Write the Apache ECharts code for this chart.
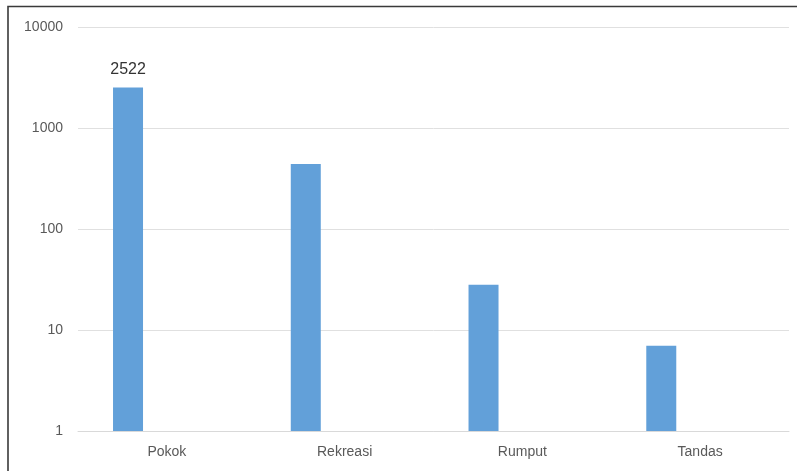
<!DOCTYPE html>
<html>
<head>
<meta charset="utf-8">
<script src="https://cdn.jsdelivr.net/npm/echarts@6/dist/echarts.min.js"></script>
<style>
html,body{margin:0;padding:0;background:#fff;}
#chart{width:797px;height:471px;}
</style>
</head>
<body>
<div id="chart"></div>
<script>
const categories = ['Pokok', 'Rekreasi', 'Rumput', 'Tandas'];
const values = [2522, 440, 28, 7];
const emptySeries = [null, null, null, null];
const yTicks = [1, 10, 100, 1000, 10000];
const labelledIndex = [0];

const chart = echarts.init(document.getElementById('chart'), null, {renderer: 'canvas'});
const font = 'Liberation Sans, Arial, sans-serif';
chart.setOption({
  animation: false,
  backgroundColor: '#ffffff',
  graphic: [{
    type: 'rect',
    shape: {x: 8, y: 6.5, width: 820, height: 500},
    style: {fill: 'none', stroke: '#3a3a3a', lineWidth: 1.6},
    silent: true, z: 100
  }],
  grid: {left: 78, right: 8, top: 27, bottom: 40, containLabel: false},
  xAxis: {
    type: 'category',
    data: categories,
    axisLine: {show: true, lineStyle: {color: '#d9d9d9', width: 1}},
    axisTick: {show: false},
    axisLabel: {color: '#595959', fontSize: 14, fontFamily: font, margin: 14},
    splitLine: {show: false}
  },
  yAxis: {
    type: 'log',
    logBase: 10,
    min: yTicks[0],
    max: yTicks[yTicks.length - 1],
    axisLine: {show: false},
    axisTick: {show: false},
    axisLabel: {color: '#595959', fontSize: 14, fontFamily: font, margin: 15,
      formatter: v => String(Math.round(v))},
    splitLine: {show: true, lineStyle: {color: '#e0e0e0', width: 1}},
    minorTick: {show: false},
    minorSplitLine: {show: false}
  },
  series: [{
    type: 'bar',
    name: 'A',
    barWidth: 30,
    barGap: '159%',
    itemStyle: {color: '#62a0d9'},
    label: {show: false, position: 'top', color: '#333333', fontSize: 16, fontFamily: font, distance: 10},
    data: values.map((v, i) => labelledIndex.includes(i) ? {value: v, label: {show: true}} : v)
  }, {
    type: 'bar',
    name: 'B',
    barWidth: 30,
    itemStyle: {color: '#ed7d31'},
    data: emptySeries
  }]
});
</script>
</body>
</html>
